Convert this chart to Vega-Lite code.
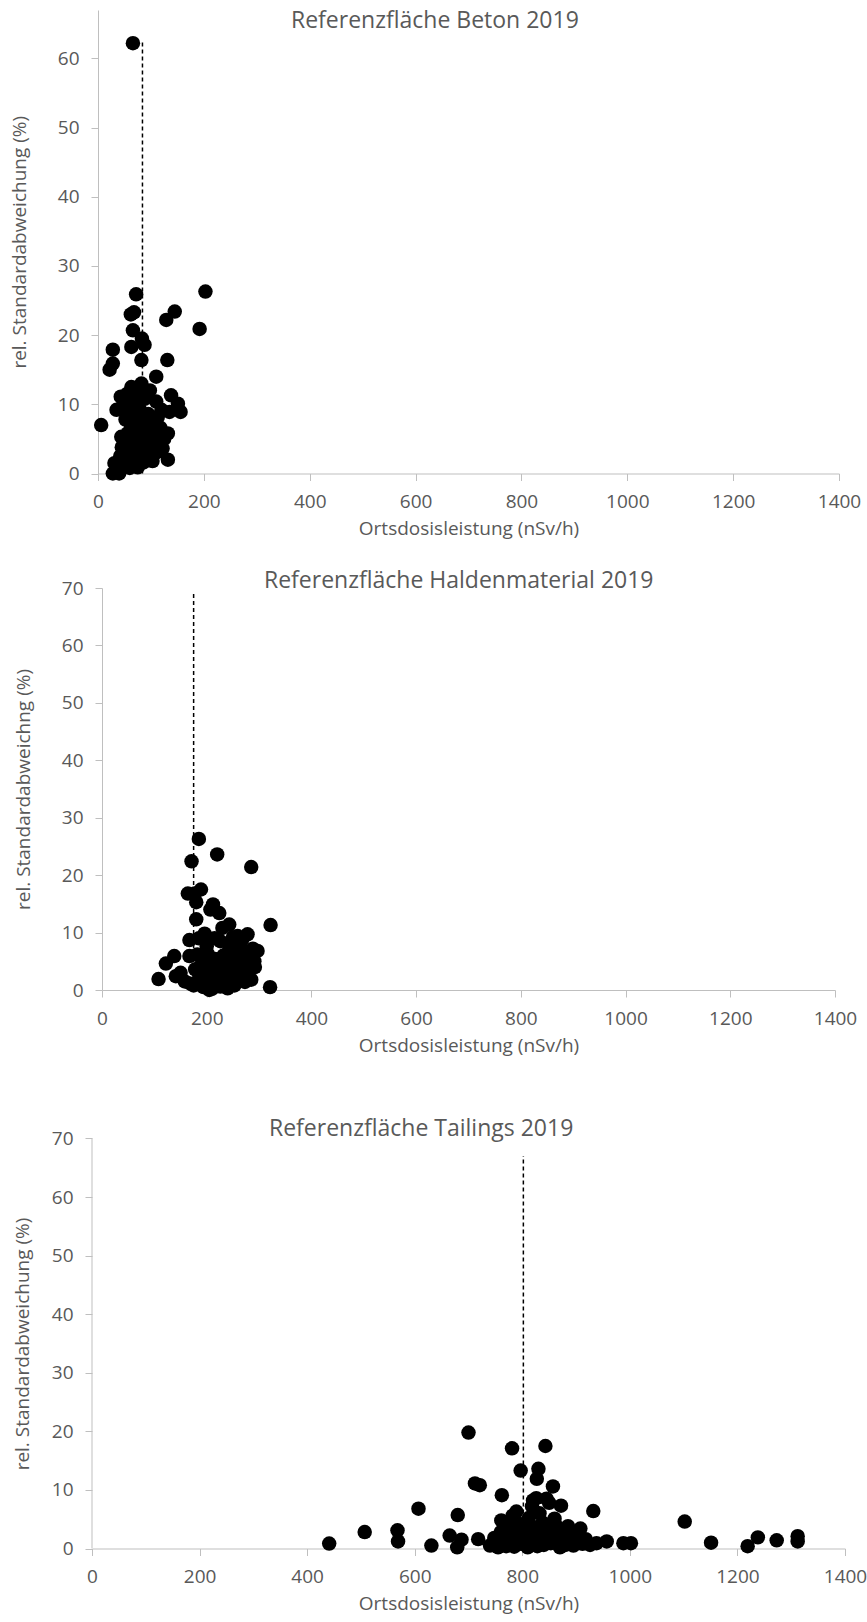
{
  "$schema": "https://vega.github.io/schema/vega-lite/v6.json",
  "background": "white",
  "padding": {"left": 10, "top": 9, "right": 5, "bottom": 5},
  "bounds": "flush",
  "center": true,
  "spacing": 114,
  "config": {
    "view": {"stroke": null},
    "font": "Open Sans",
    "axis": {
      "grid": false,
      "domainColor": "#bfbfbf",
      "tickColor": "#bfbfbf",
      "tickSize": 7,
      "labelColor": "#595959",
      "titleColor": "#595959",
      "labelFont": "Open Sans",
      "titleFont": "Open Sans",
      "labelFontSize": 19,
      "titleFontSize": 19,
      "titleFontWeight": "normal",
      "labelFlush": false,
      "labelPadding": 12,
      "format": "d"
    },
    "axisX": {"titlePadding": 8, "labelPadding": 12},
    "title": {"font": "Open Sans", "fontSize": 23, "fontWeight": "normal", "color": "#595959", "anchor": "start", "frame": "group", "baseline": "alphabetic"}
  },
  "datasets": {
    "beton": [
      {"x": 66, "y": 62.2}, {"x": 6, "y": 7.0}, {"x": 203, "y": 26.3}, {"x": 192, "y": 20.9},
      {"x": 145, "y": 23.4}, {"x": 129, "y": 22.2}, {"x": 72, "y": 25.9}, {"x": 62, "y": 23.0},
      {"x": 68, "y": 23.3}, {"x": 66, "y": 20.7}, {"x": 83, "y": 19.5}, {"x": 88, "y": 18.6},
      {"x": 63, "y": 18.3}, {"x": 28, "y": 17.9}, {"x": 28, "y": 15.9}, {"x": 22, "y": 15.0},
      {"x": 82, "y": 16.4}, {"x": 131, "y": 16.4}, {"x": 110, "y": 14.0}, {"x": 63, "y": 12.5},
      {"x": 82, "y": 13.0}, {"x": 75, "y": 11.8}, {"x": 138, "y": 11.3}, {"x": 110, "y": 10.4},
      {"x": 43, "y": 11.1}, {"x": 35, "y": 9.2}, {"x": 156, "y": 8.9}, {"x": 135, "y": 8.9},
      {"x": 151, "y": 10.1}, {"x": 132, "y": 5.8}, {"x": 132, "y": 2.0}, {"x": 31, "y": 1.5},
      {"x": 28, "y": 0.0}, {"x": 40, "y": 0.0}, {"x": 44, "y": 5.3},
      {"x": 38, "y": 0.5}, {"x": 42, "y": 2.5}, {"x": 45, "y": 3.8}, {"x": 48, "y": 1.2},
      {"x": 50, "y": 4.6}, {"x": 52, "y": 7.8}, {"x": 55, "y": 2.0}, {"x": 56, "y": 5.8},
      {"x": 58, "y": 9.0}, {"x": 60, "y": 0.8}, {"x": 60, "y": 3.2}, {"x": 62, "y": 6.5},
      {"x": 64, "y": 4.2}, {"x": 66, "y": 8.3}, {"x": 68, "y": 1.8}, {"x": 70, "y": 5.0},
      {"x": 70, "y": 10.5}, {"x": 72, "y": 3.0}, {"x": 73, "y": 7.2}, {"x": 75, "y": 0.9},
      {"x": 76, "y": 4.8}, {"x": 78, "y": 9.4}, {"x": 80, "y": 2.4}, {"x": 80, "y": 6.0},
      {"x": 82, "y": 3.6}, {"x": 84, "y": 8.0}, {"x": 86, "y": 1.6}, {"x": 86, "y": 5.2},
      {"x": 88, "y": 10.8}, {"x": 90, "y": 3.0}, {"x": 90, "y": 6.8}, {"x": 92, "y": 4.4},
      {"x": 94, "y": 2.2}, {"x": 95, "y": 8.6}, {"x": 97, "y": 5.6}, {"x": 100, "y": 3.4},
      {"x": 100, "y": 7.4}, {"x": 103, "y": 1.8}, {"x": 105, "y": 4.8}, {"x": 108, "y": 6.2},
      {"x": 110, "y": 3.0}, {"x": 113, "y": 8.2}, {"x": 115, "y": 4.2}, {"x": 118, "y": 6.6},
      {"x": 122, "y": 3.6}, {"x": 125, "y": 5.0}, {"x": 120, "y": 9.2}, {"x": 98, "y": 12.0},
      {"x": 55, "y": 11.5}, {"x": 47, "y": 9.8}
    ],
    "halde": [
      {"x": 185, "y": 26.3}, {"x": 171, "y": 22.4}, {"x": 220, "y": 23.6}, {"x": 285, "y": 21.4},
      {"x": 322, "y": 11.3}, {"x": 321, "y": 0.5}, {"x": 108, "y": 1.9}, {"x": 122, "y": 4.6},
      {"x": 138, "y": 5.9}, {"x": 141, "y": 2.4}, {"x": 164, "y": 16.8}, {"x": 177, "y": 16.8},
      {"x": 189, "y": 17.5}, {"x": 180, "y": 15.3}, {"x": 212, "y": 14.9}, {"x": 224, "y": 13.4},
      {"x": 207, "y": 14.0}, {"x": 180, "y": 12.3}, {"x": 243, "y": 11.4}, {"x": 167, "y": 8.7},
      {"x": 196, "y": 9.8}, {"x": 226, "y": 8.5}, {"x": 278, "y": 9.7}, {"x": 297, "y": 6.8},
      {"x": 291, "y": 5.0}, {"x": 285, "y": 1.8}, {"x": 259, "y": 9.4}, {"x": 243, "y": 6.9},
      {"x": 167, "y": 5.9}, {"x": 202, "y": 6.3}, {"x": 205, "y": 0.0}, {"x": 240, "y": 0.3},
      {"x": 273, "y": 1.4}, {"x": 169, "y": 1.1},
      {"x": 150, "y": 3.0}, {"x": 158, "y": 1.5}, {"x": 175, "y": 0.8}, {"x": 178, "y": 3.6},
      {"x": 182, "y": 6.2}, {"x": 186, "y": 2.2}, {"x": 190, "y": 4.4}, {"x": 194, "y": 0.5},
      {"x": 198, "y": 2.8}, {"x": 200, "y": 7.6}, {"x": 204, "y": 1.6}, {"x": 208, "y": 4.0},
      {"x": 210, "y": 0.2}, {"x": 213, "y": 2.6}, {"x": 216, "y": 5.4}, {"x": 219, "y": 1.2},
      {"x": 222, "y": 3.4}, {"x": 226, "y": 0.6}, {"x": 230, "y": 2.0}, {"x": 232, "y": 6.0},
      {"x": 235, "y": 4.2}, {"x": 238, "y": 1.4}, {"x": 241, "y": 3.0}, {"x": 245, "y": 8.0},
      {"x": 248, "y": 2.2}, {"x": 250, "y": 5.2}, {"x": 253, "y": 0.8}, {"x": 256, "y": 3.6},
      {"x": 260, "y": 6.6}, {"x": 262, "y": 1.8}, {"x": 265, "y": 4.4}, {"x": 268, "y": 8.8},
      {"x": 270, "y": 2.6}, {"x": 275, "y": 5.8}, {"x": 280, "y": 3.6}, {"x": 288, "y": 7.2},
      {"x": 292, "y": 4.0}, {"x": 215, "y": 9.0}, {"x": 250, "y": 9.2}, {"x": 185, "y": 9.0},
      {"x": 230, "y": 10.8}, {"x": 265, "y": 7.2}, {"x": 198, "y": 4.8}, {"x": 188, "y": 0.9}
    ],
    "tailings": [
      {"x": 441, "y": 0.85}, {"x": 507, "y": 2.8}, {"x": 568, "y": 3.1}, {"x": 569, "y": 1.2},
      {"x": 607, "y": 6.8}, {"x": 631, "y": 0.5}, {"x": 680, "y": 5.7}, {"x": 665, "y": 2.2},
      {"x": 679, "y": 0.2}, {"x": 700, "y": 19.8}, {"x": 781, "y": 17.1}, {"x": 843, "y": 17.5},
      {"x": 797, "y": 13.3}, {"x": 830, "y": 13.6}, {"x": 827, "y": 11.9}, {"x": 857, "y": 10.6},
      {"x": 712, "y": 11.1}, {"x": 721, "y": 10.8}, {"x": 762, "y": 9.1}, {"x": 932, "y": 6.4},
      {"x": 826, "y": 8.6}, {"x": 872, "y": 7.3}, {"x": 860, "y": 5.1}, {"x": 789, "y": 6.3},
      {"x": 761, "y": 4.8}, {"x": 908, "y": 3.4}, {"x": 687, "y": 1.5}, {"x": 718, "y": 1.6},
      {"x": 957, "y": 1.2}, {"x": 988, "y": 0.9}, {"x": 1002, "y": 0.9}, {"x": 1102, "y": 4.6},
      {"x": 1151, "y": 1.0}, {"x": 1219, "y": 0.4}, {"x": 1238, "y": 1.9}, {"x": 1273, "y": 1.4},
      {"x": 1312, "y": 2.1}, {"x": 1312, "y": 1.2}, {"x": 926, "y": 0.6}, {"x": 874, "y": 3.0},
      {"x": 740, "y": 0.5}, {"x": 748, "y": 1.8}, {"x": 755, "y": 0.2}, {"x": 760, "y": 2.8},
      {"x": 765, "y": 1.2}, {"x": 770, "y": 0.4}, {"x": 772, "y": 3.8}, {"x": 778, "y": 1.6},
      {"x": 782, "y": 5.6}, {"x": 785, "y": 0.3}, {"x": 790, "y": 2.4}, {"x": 795, "y": 4.2},
      {"x": 798, "y": 0.8}, {"x": 802, "y": 1.8}, {"x": 806, "y": 3.2}, {"x": 810, "y": 0.2},
      {"x": 812, "y": 5.2}, {"x": 815, "y": 2.0}, {"x": 818, "y": 7.2}, {"x": 820, "y": 1.0},
      {"x": 824, "y": 3.6}, {"x": 828, "y": 0.4}, {"x": 832, "y": 6.0}, {"x": 835, "y": 2.6},
      {"x": 838, "y": 4.4}, {"x": 840, "y": 0.6}, {"x": 845, "y": 1.8}, {"x": 848, "y": 3.4},
      {"x": 850, "y": 7.8}, {"x": 853, "y": 0.9}, {"x": 858, "y": 2.4}, {"x": 862, "y": 4.0},
      {"x": 866, "y": 1.2}, {"x": 870, "y": 0.2}, {"x": 876, "y": 2.0}, {"x": 880, "y": 0.6},
      {"x": 885, "y": 3.8}, {"x": 890, "y": 1.4}, {"x": 895, "y": 0.5}, {"x": 900, "y": 2.6},
      {"x": 912, "y": 0.8}, {"x": 918, "y": 1.6}, {"x": 938, "y": 0.9}, {"x": 845, "y": 8.5},
      {"x": 820, "y": 8.2}
    ]
  },
  "vconcat": [
    {
      "title": {"text": "Referenzfläche Beton 2019", "dx": 193, "offset": -22.5},
      "width": 741,
      "height": 463.5,
      "layer": [
        {
          "data": {"values": [{"x": 84, "y0": 0, "y1": 62.7}]},
          "mark": {"type": "rule", "color": "black", "strokeWidth": 1.5, "strokeDash": [4, 3]},
          "encoding": {
            "x": {"field": "x", "type": "quantitative", "scale": {"domain": [0, 1400], "nice": false},
                  "axis": {"values": [0, 200, 400, 600, 800, 1000, 1200, 1400], "title": "Ortsdosisleistung (nSv/h)"}},
            "y": {"field": "y0", "type": "quantitative", "scale": {"domain": [0, 67], "nice": false},
                  "axis": {"values": [0, 10, 20, 30, 40, 50, 60], "title": "rel. Standardabweichung (%)", "titleX": -79, "titleBaseline": "middle"}},
            "y2": {"field": "y1"}
          }
        },
        {
          "data": {"name": "beton"},
          "mark": {"type": "circle", "size": 210, "color": "black", "opacity": 1},
          "encoding": {
            "x": {"field": "x", "type": "quantitative"},
            "y": {"field": "y", "type": "quantitative"}
          }
        }
      ]
    },
    {
      "title": {"text": "Referenzfläche Haldenmaterial 2019", "dx": 162, "offset": -13.5},
      "width": 733,
      "height": 402,
      "layer": [
        {
          "data": {"values": [{"x": 175, "y0": 0, "y1": 69.2}]},
          "mark": {"type": "rule", "color": "black", "strokeWidth": 1.5, "strokeDash": [4, 3]},
          "encoding": {
            "x": {"field": "x", "type": "quantitative", "scale": {"domain": [0, 1400], "nice": false},
                  "axis": {"values": [0, 200, 400, 600, 800, 1000, 1200, 1400], "title": "Ortsdosisleistung (nSv/h)"}},
            "y": {"field": "y0", "type": "quantitative", "scale": {"domain": [0, 70], "nice": false},
                  "axis": {"values": [0, 10, 20, 30, 40, 50, 60, 70], "title": "rel. Standardabweichng (%)", "titleX": -79, "titleBaseline": "middle"}},
            "y2": {"field": "y1"}
          }
        },
        {
          "data": {"name": "halde"},
          "mark": {"type": "circle", "size": 210, "color": "black", "opacity": 1},
          "encoding": {
            "x": {"field": "x", "type": "quantitative"},
            "y": {"field": "y", "type": "quantitative"}
          }
        }
      ]
    },
    {
      "title": {"text": "Referenzfläche Tailings 2019", "dx": 177, "offset": -36.5},
      "width": 753,
      "height": 444.5,
      "layer": [
        {
          "data": {"values": [{"x": 0, "y0": 0, "y1": 70}]},
          "mark": {"type": "rule", "color": "#bfbfbf", "strokeWidth": 1},
          "encoding": {
            "x": {"field": "x", "type": "quantitative", "scale": {"domain": [0, 1400], "nice": false},
                  "axis": {"values": [0, 200, 400, 600, 800, 1000, 1200, 1400], "title": "Ortsdosisleistung (nSv/h)"}},
            "y": {"field": "y0", "type": "quantitative", "scale": {"domain": [0, 75.89], "nice": false},
                  "axis": {"values": [0, 10, 20, 30, 40, 50, 60, 70], "domain": false, "title": "rel. Standardabweichung (%)", "titleX": -70, "titleBaseline": "middle", "titleY": 239.5}},
            "y2": {"field": "y1"}
          }
        },
        {
          "data": {"values": [{"x": 802, "y0": 0, "y1": 67}]},
          "mark": {"type": "rule", "color": "black", "strokeWidth": 1.5, "strokeDash": [4, 3]},
          "encoding": {
            "x": {"field": "x", "type": "quantitative"},
            "y": {"field": "y0", "type": "quantitative"},
            "y2": {"field": "y1"}
          }
        },
        {
          "data": {"name": "tailings"},
          "mark": {"type": "circle", "size": 210, "color": "black", "opacity": 1},
          "encoding": {
            "x": {"field": "x", "type": "quantitative"},
            "y": {"field": "y", "type": "quantitative"}
          }
        }
      ]
    }
  ]
}
